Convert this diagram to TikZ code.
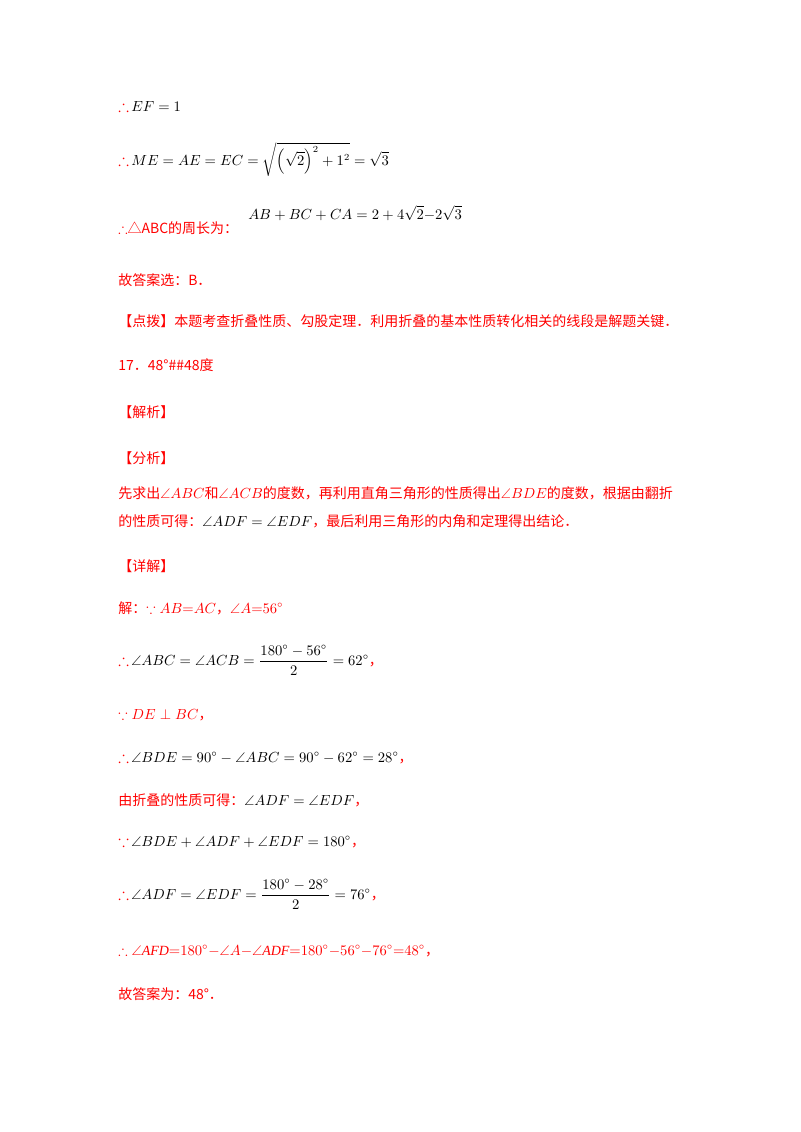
\documentclass[tikz,border=0pt]{standalone}
\usepackage{fontspec}
\usepackage{amsmath,amssymb}
\setmainfont{Liberation Serif}
\newfontfamily\cjk{Noto Sans CJK SC}
\definecolor{rd}{RGB}{255,0,0}
\newcommand{\thr}{\textcolor{rd}{\large$\boldsymbol\therefore$}\,}
\newcommand{\bec}{\textcolor{rd}{\large$\boldsymbol\because$}\,}
\newcommand{\rc}{\textcolor{rd}{\cjk ，}}
\begin{document}
\begin{tikzpicture}[x=0.75pt,y=-0.75pt,
  ln/.style={anchor=base west,inner sep=0pt,font=\fontsize{10.5}{12}\selectfont},
  rl/.style={ln,text=rd}]
\fill[white] (0,0) rectangle (800,1132);
\node[ln] (l1) at (118,111) {\thr$EF=1$};
\node[ln] (l2) at (118,165) {\thr$ME=AE=EC=\sqrt{\left(\sqrt2\right)^2+1^2}=\sqrt3$};
\node[rl] (l3) at (118,233) {$\therefore$\cjk△ABC的周长为：};
\node[ln] (l3b) at (248,219) {$AB+BC+CA=2+4\sqrt2{-}2\sqrt3$};
\node[rl] (l4) at (118,285) {\cjk 故答案选：B．};
\node[rl] (l5) at (118,326) {\cjk【点拨】本题考查折叠性质、勾股定理．利用折叠的基本性质转化相关的线段是解题关键．};
\node[rl] (l6) at (118,370) {\cjk 17．48°\#\#48度};
\node[rl] (l7) at (118,417) {\cjk【解析】};
\node[rl] (l8) at (118,463) {\cjk【分析】};
\node[rl] (l9) at (118,498) {\cjk 先求出{\rmfamily$\angle ABC$}和{\rmfamily$\angle ACB$}的度数，再利用直角三角形的性质得出{\rmfamily$\angle BDE$}的度数，根据由翻折};
\node[rl] (l10) at (118,526) {\cjk 的性质可得：\textcolor{black}{\rmfamily$\angle ADF=\angle EDF$}，最后利用三角形的内角和定理得出结论．};
\node[rl] (l11) at (118,571) {\cjk【详解】};
\node[rl] (l12) at (118,613) {\cjk 解：{\rmfamily$\because AB{=}AC$}，{\rmfamily$\angle A{=}56^\circ$}};
\node[ln] (l13) at (118,665) {\thr$\angle ABC=\angle ACB=\dfrac{180^\circ-56^\circ}{2}=62^\circ$\rc};
\node[rl] (l14) at (118,719) {$\because DE\perp BC$\cjk，};
\node[ln] (l15) at (118,762) {\thr$\angle BDE=90^\circ-\angle ABC=90^\circ-62^\circ=28^\circ$\rc};
\node[rl] (l16) at (118,805) {\cjk 由折叠的性质可得：\textcolor{black}{\rmfamily$\angle ADF=\angle EDF$}，};
\node[ln] (l17) at (118,846) {\bec$\angle BDE+\angle ADF+\angle EDF=180^\circ$\rc};
\node[ln] (l18) at (118,899) {\thr$\angle ADF=\angle EDF=\dfrac{180^\circ-28^\circ}{2}=76^\circ$\rc};
\node[rl] (l19) at (118,955) {$\therefore\angle \mathit{AFD}{=}180^\circ{-}\angle A{-}\angle \mathit{ADF}{=}180^\circ{-}56^\circ{-}76^\circ{=}48^\circ$\cjk，};
\node[rl] (l20) at (118,999) {\cjk 故答案为：48°．};
\end{tikzpicture}
\end{document}
